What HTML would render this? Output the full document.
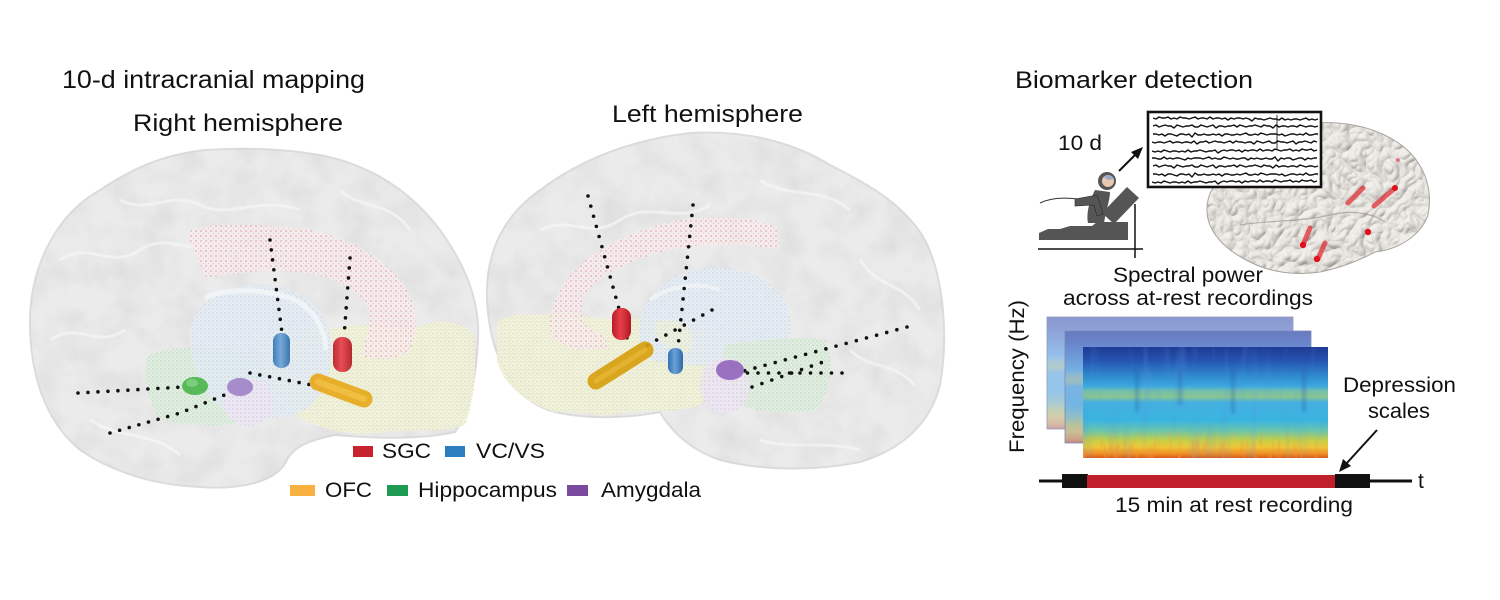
<!DOCTYPE html>
<html><head><meta charset="utf-8"><style>
html,body{margin:0;padding:0;background:#fff;}
svg{display:block;}
text{font-family:"Liberation Sans",Arial,sans-serif;fill:#111;}
</style></head><body>
<svg width="1500" height="600" viewBox="0 0 1500 600" xmlns="http://www.w3.org/2000/svg" xmlns:xlink="http://www.w3.org/1999/xlink">
<defs>
  <filter id="mottle" x="0" y="0" width="100%" height="100%">
    <feTurbulence type="fractalNoise" baseFrequency="0.035" numOctaves="3" seed="3" result="n"/>
    <feColorMatrix in="n" type="matrix" values="0 0 0 0 0.6  0 0 0 0 0.6  0 0 0 0 0.6  0.7 0 0 0 -0.25" result="g"/>
    <feComposite in="g" in2="SourceGraphic" operator="in"/>
  </filter>
  <filter id="gyri" x="0" y="0" width="100%" height="100%">
    <feTurbulence type="turbulence" baseFrequency="0.06" numOctaves="2" seed="5" result="t"/>
    <feDiffuseLighting in="t" surfaceScale="3" diffuseConstant="1.05" lighting-color="#eeebe6" result="l"><feDistantLight azimuth="235" elevation="62"/></feDiffuseLighting>
    <feComposite in="l" in2="SourceGraphic" operator="in"/>
  </filter>
  <filter id="fire" x="0" y="0" width="100%" height="100%">
    <feTurbulence type="fractalNoise" baseFrequency="0.22 0.05" numOctaves="2" seed="7" result="n"/>
    <feColorMatrix in="n" type="matrix" values="0 0 0 0 0.85  0 0 0 0 0.3  0 0 0 0 0.05  2.4 0 0 0 -1.15" result="c"/>
    <feComposite in="c" in2="SourceGraphic" operator="in"/>
  </filter>
  <filter id="streak" x="0" y="0" width="100%" height="100%">
    <feTurbulence type="fractalNoise" baseFrequency="0.1 0.012" numOctaves="2" seed="11" result="n"/>
    <feColorMatrix in="n" type="matrix" values="0 0 0 0 0.1  0 0 0 0 0.3  0 0 0 0 0.7  1.4 0 0 0 -0.7" result="c"/>
    <feComposite in="c" in2="SourceGraphic" operator="in"/>
  </filter>
  <filter id="soft" x="-20%" y="-20%" width="140%" height="140%"><feGaussianBlur stdDeviation="1.5"/></filter>
  <pattern id="pr" width="5" height="5" patternUnits="userSpaceOnUse"><rect width="5" height="5" fill="#f7eded"/><circle cx="1" cy="1" r=".6" fill="#d04858"/><circle cx="3.5" cy="3.2" r=".45" fill="#e08a98"/></pattern>
  <pattern id="pb" width="4" height="4" patternUnits="userSpaceOnUse"><rect width="4" height="4" fill="#e6edf4"/><circle cx="1" cy="1" r=".5" fill="#7aa8d0"/><circle cx="3" cy="3" r=".4" fill="#a8c8e4"/></pattern>
  <pattern id="py" width="4" height="4" patternUnits="userSpaceOnUse"><rect width="4" height="4" fill="#f1f2dc"/><circle cx="1" cy="1.5" r=".55" fill="#c8cc60"/><circle cx="3" cy="3.2" r=".45" fill="#d8d890"/></pattern>
  <pattern id="pg" width="4" height="4" patternUnits="userSpaceOnUse"><rect width="4" height="4" fill="#e2efe1"/><circle cx="1" cy="1" r=".55" fill="#70b070"/><circle cx="3" cy="3" r=".45" fill="#98c898"/></pattern>
  <pattern id="pp" width="4" height="4" patternUnits="userSpaceOnUse"><rect width="4" height="4" fill="#ede6f2"/><circle cx="1" cy="1" r=".5" fill="#b090c8"/></pattern>
  <linearGradient id="spec" x1="0" y1="0" x2="0" y2="1">
    <stop offset="0" stop-color="#1f3a92"/>
    <stop offset="0.12" stop-color="#2553b0"/>
    <stop offset="0.25" stop-color="#2f86cc"/>
    <stop offset="0.35" stop-color="#3aa8e0"/>
    <stop offset="0.40" stop-color="#78c0a8"/>
    <stop offset="0.45" stop-color="#88c692"/>
    <stop offset="0.50" stop-color="#44b0e0"/>
    <stop offset="0.66" stop-color="#3ab4e0"/>
    <stop offset="0.76" stop-color="#6ec6a8"/>
    <stop offset="0.84" stop-color="#c4d048"/>
    <stop offset="0.90" stop-color="#eec838"/>
    <stop offset="0.96" stop-color="#f09024"/>
    <stop offset="1" stop-color="#d85a1a"/>
  </linearGradient>
  <linearGradient id="fadeUp" x1="0" y1="0" x2="0" y2="1">
    <stop offset="0" stop-color="#fff" stop-opacity="0"/>
    <stop offset="1" stop-color="#fff" stop-opacity="1"/>
  </linearGradient>
  <linearGradient id="capR" x1="0" y1="0" x2="1" y2="0"><stop offset="0" stop-color="#b81c28"/><stop offset=".45" stop-color="#e8404a"/><stop offset="1" stop-color="#b01822"/></linearGradient>
  <linearGradient id="capB" x1="0" y1="0" x2="1" y2="0"><stop offset="0" stop-color="#2f72b4"/><stop offset=".45" stop-color="#6aa2d6"/><stop offset="1" stop-color="#2a6aa8"/></linearGradient>
  <path id="ea" d="M0,0 l3,1 l3,-2 l3,1 l3,0 l3,-1 l3,2 l3,-1 l3,1 l3,-2 l3,1 l3,0 l3,1 l3,-1 l3,-1 l3,2 l3,-1 l3,0 l3,1 l3,-2 l3,2 l3,-1 l3,0 l3,1 l3,-1 l3,2 l3,-2 l3,1 l3,-1 l3,0 l3,1 l3,-1 l3,1 l3,2 l3,-3 l3,1 l3,0 l3,1 l3,-1 l3,-1 l3,1 l3,0 l3,1 l3,-2 l3,2 l3,-1 l3,1 l3,-1 l3,0 l3,1 l3,-1 l3,-1 l3,2 l3,-1 l3,1 l3,-1"/>
  <path id="eb" d="M0,0 l3,-1 l3,2 l3,-1 l3,-1 l3,1 l3,0 l3,2 l3,-3 l3,1 l3,1 l3,-1 l3,0 l3,-1 l3,2 l3,0 l3,-2 l3,1 l3,1 l3,-1 l3,-1 l3,3 l3,-2 l3,0 l3,1 l3,-1 l3,0 l3,-1 l3,2 l3,-2 l3,1 l3,1 l3,-1 l3,0 l3,-1 l3,1 l3,1 l3,-2 l3,1 l3,0 l3,2 l3,-3 l3,2 l3,-1 l3,0 l3,1 l3,-1 l3,0 l3,1 l3,-2 l3,1 l3,1 l3,-1 l3,0 l3,1 l3,-1"/>
  <path id="ec" d="M0,0 l3,0 l3,1 l3,-1 l3,2 l3,-2 l3,0 l3,1 l3,1 l3,-2 l3,0 l3,1 l3,-1 l3,3 l3,-4 l3,2 l3,0 l3,-1 l3,1 l3,0 l3,-1 l3,1 l3,-1 l3,2 l3,-2 l3,0 l3,1 l3,0 l3,-1 l3,1 l3,-1 l3,-1 l3,2 l3,0 l3,-1 l3,1 l3,-2 l3,1 l3,1 l3,-1 l3,0 l3,0 l3,1 l3,-1 l3,2 l3,-1 l3,-1 l3,0 l3,1 l3,-1 l3,1 l3,-2 l3,2 l3,0 l3,-1 l3,0"/>
</defs>

<rect width="1500" height="600" fill="#fff"/>

<!-- Titles -->
<text x="62" y="88" font-size="25" textLength="303" lengthAdjust="spacingAndGlyphs">10-d intracranial mapping</text>
<text x="133" y="131" font-size="24" textLength="210" lengthAdjust="spacingAndGlyphs">Right hemisphere</text>
<text x="612" y="122" font-size="24" textLength="191" lengthAdjust="spacingAndGlyphs">Left hemisphere</text>
<text x="1015" y="88" font-size="24" textLength="238" lengthAdjust="spacingAndGlyphs">Biomarker detection</text>

<!-- ===== Right hemisphere brain ===== -->
<g>
  <path d="M30,330 C28,270 55,215 100,190 C130,170 160,155 205,150 C250,147 290,150 320,155 C370,165 410,190 440,230 C465,265 480,300 478,340 C476,380 470,410 455,432 C420,440 370,438 335,435 C310,440 292,447 286,462 C275,482 240,490 200,487 C150,485 110,470 80,450 C50,425 32,385 30,330 Z" fill="#ebebeb" stroke="#dcdcdc" stroke-width="2"/>
  <path d="M30,330 C28,270 55,215 100,190 C130,170 160,155 205,150 C250,147 290,150 320,155 C370,165 410,190 440,230 C465,265 480,300 478,340 C476,380 470,410 455,432 C420,440 370,438 335,435 C310,440 292,447 286,462 C275,482 240,490 200,487 C150,485 110,470 80,450 C50,425 32,385 30,330 Z" fill="#000" filter="url(#mottle)"/>
  <g fill="none" stroke="#f6f6f6" stroke-width="3" opacity=".7">
    <path d="M60,260 C90,240 110,270 140,250 C170,230 190,260 220,240"/>
    <path d="M120,200 C150,215 170,190 200,205 C230,220 260,195 300,210"/>
    <path d="M50,340 C80,320 95,350 125,330"/>
    <path d="M340,190 C360,210 390,200 410,230"/>
    <path d="M90,420 C120,440 150,430 180,455"/>
  </g>
  <path d="M268,335 C290,322 320,332 350,326 C380,322 400,334 420,326 C440,318 462,322 472,332 C478,360 475,400 465,425 C440,434 410,428 380,433 C350,436 325,430 305,420 C285,408 270,392 265,370 Z" fill="url(#py)" opacity=".85"/>
  <path d="M148,355 C170,345 215,345 250,352 C270,365 275,395 268,415 C240,428 190,428 160,418 C145,400 143,370 148,355 Z" fill="url(#pg)" opacity=".85"/>
  <path d="M190,330 C195,300 230,283 270,285 C305,290 330,315 332,345 C333,370 325,395 305,410 C280,420 245,422 225,410 C200,395 188,360 190,330 Z" fill="url(#pb)" opacity=".85"/>
  <path d="M205,298 C225,288 265,288 295,300 C315,310 325,330 326,350" fill="none" stroke="#f4f6f8" stroke-width="5" opacity=".8"/>
  <ellipse cx="248" cy="402" rx="25" ry="24" fill="url(#pp)" opacity=".8"/>
  <path d="M187,233 C200,222 250,225 290,227 C330,232 370,245 400,280 C418,305 420,330 410,350 C395,362 375,360 362,356 L368,332 C375,310 365,298 345,285 C320,272 280,268 250,272 C225,275 210,278 205,276 Z" fill="url(#pr)" opacity=".8"/>
  <g stroke="#111" stroke-width="3.6" stroke-linecap="round" stroke-dasharray="0 10" fill="none">
    <path d="M270,240 L282,333"/>
    <path d="M350,258 L344,337"/>
    <path d="M250,373 L312,385"/>
    <path d="M78,393 L183,387"/>
    <path d="M110,433 L180,413 L227,394"/>
  </g>
  <rect x="273" y="333" width="17" height="35" rx="8" fill="url(#capB)" opacity=".9"/>
  <rect x="333" y="337" width="19" height="35" rx="9" fill="url(#capR)" opacity=".92"/>
  <line x1="318" y1="382" x2="364" y2="399" stroke="#e8a818" stroke-width="17" stroke-linecap="round" opacity=".9"/>
  <line x1="318" y1="382" x2="364" y2="399" stroke="#f6c850" stroke-width="6" stroke-linecap="round" opacity=".6"/>
  <ellipse cx="195" cy="386" rx="13" ry="9" fill="#56ba58"/>
  <ellipse cx="192" cy="383" rx="6" ry="4" fill="#8ad68a" opacity=".7"/>
  <ellipse cx="240" cy="387" rx="13" ry="9" fill="#a68cca"/>
</g>

<!-- ===== Left hemisphere brain ===== -->
<g>
  <path d="M487,300 C485,250 505,215 540,190 C580,160 630,140 690,133 C740,130 790,140 830,165 C870,185 905,205 925,240 C945,280 948,340 940,385 C930,425 900,450 860,462 C810,472 760,470 720,460 C690,450 670,430 660,412 C630,418 590,420 555,412 C515,402 490,360 487,300 Z" fill="#ebebeb" stroke="#dcdcdc" stroke-width="2"/>
  <path d="M487,300 C485,250 505,215 540,190 C580,160 630,140 690,133 C740,130 790,140 830,165 C870,185 905,205 925,240 C945,280 948,340 940,385 C930,425 900,450 860,462 C810,472 760,470 720,460 C690,450 670,430 660,412 C630,418 590,420 555,412 C515,402 490,360 487,300 Z" fill="#000" filter="url(#mottle)"/>
  <g fill="none" stroke="#f6f6f6" stroke-width="3" opacity=".7">
    <path d="M540,230 C570,215 590,240 620,220 C650,200 680,225 710,205"/>
    <path d="M760,180 C790,200 820,185 850,210"/>
    <path d="M860,260 C880,290 900,280 920,310"/>
    <path d="M760,440 C790,450 820,440 860,450"/>
    <path d="M850,350 C870,370 890,360 915,385"/>
  </g>
  <path d="M497,322 C515,310 540,318 565,312 C590,318 615,322 640,318 C665,322 690,316 708,326 C718,350 714,385 700,405 C675,414 645,408 620,414 C595,418 575,410 555,412 C530,405 505,388 497,362 Z" fill="url(#py)" opacity=".85"/>
  <path d="M640,340 C635,300 665,272 710,268 C750,265 785,285 790,320 C792,345 780,360 760,365 C720,368 680,365 650,360 Z" fill="url(#pb)" opacity=".85"/>
  <path d="M650,300 C670,285 700,282 720,290" fill="none" stroke="#f4f6f8" stroke-width="4" opacity=".7"/>
  <path d="M655,322 C680,315 700,330 690,350 C680,360 665,345 655,335 Z" fill="url(#py)" opacity=".6"/>
  <path d="M725,345 C760,340 800,335 825,340 C835,360 830,395 815,410 C785,415 750,412 730,400 C722,380 720,360 725,345 Z" fill="url(#pg)" opacity=".85"/>
  <ellipse cx="725" cy="385" rx="25" ry="28" fill="url(#pp)" opacity=".8"/>
  <path d="M777,228 C760,218 720,215 680,220 C640,228 600,245 575,270 C555,292 545,318 553,338 C565,350 590,352 610,348 L603,335 C585,330 575,315 585,295 C600,272 640,255 680,248 C720,242 760,245 780,250 Z" fill="url(#pr)" opacity=".8"/>
  <g stroke="#111" stroke-width="3.6" stroke-linecap="round" stroke-dasharray="0 10.5" fill="none">
    <path d="M588,196 L627,338"/>
    <path d="M693,205 L678,347"/>
    <path d="M712,310 L642,348"/>
    <path d="M907,327 L740,372"/>
    <path d="M842,373 L747,373"/>
    <path d="M752,387 L823,362"/>
  </g>
  <rect x="612" y="308" width="19" height="32" rx="9" fill="url(#capR)"/>
  <line x1="645" y1="350" x2="596" y2="381" stroke="#d8a010" stroke-width="17" stroke-linecap="round" opacity=".92"/>
  <line x1="645" y1="350" x2="596" y2="381" stroke="#f0c040" stroke-width="5" stroke-linecap="round" opacity=".5"/>
  <rect x="668" y="348" width="15" height="26" rx="7" fill="url(#capB)"/>
  <ellipse cx="730" cy="370" rx="14" ry="10" fill="#9a70c0"/>
</g>

<!-- Legend -->
<rect x="353" y="446" width="20" height="11" fill="#c8232c"/>
<text x="382" y="458" font-size="21" textLength="49" lengthAdjust="spacingAndGlyphs">SGC</text>
<rect x="445" y="446" width="20" height="11" fill="#2a7ec0"/>
<text x="476" y="458" font-size="21" textLength="69" lengthAdjust="spacingAndGlyphs">VC/VS</text>
<rect x="290" y="485" width="25" height="11" fill="#f8b040"/>
<text x="325" y="497" font-size="21" textLength="47" lengthAdjust="spacingAndGlyphs">OFC</text>
<rect x="387" y="485" width="21" height="11" fill="#1e9a52"/>
<text x="418" y="497" font-size="21" textLength="139" lengthAdjust="spacingAndGlyphs">Hippocampus</text>
<rect x="567" y="485" width="21" height="11" fill="#7a4a9e"/>
<text x="601" y="497" font-size="21" textLength="100" lengthAdjust="spacingAndGlyphs">Amygdala</text>

<!-- ===== Right panel ===== -->
<path d="M1300,125 C1340,118 1380,127 1405,148 C1425,165 1433,190 1428,215 C1420,238 1395,250 1375,252 C1360,260 1340,268 1320,272 C1295,276 1270,272 1250,262 C1225,250 1208,232 1207,212 C1206,195 1215,180 1230,170 C1250,150 1275,130 1300,125 Z" fill="#d8d5d0"/>
<path d="M1300,125 C1340,118 1380,127 1405,148 C1425,165 1433,190 1428,215 C1420,238 1395,250 1375,252 C1360,260 1340,268 1320,272 C1295,276 1270,272 1250,262 C1225,250 1208,232 1207,212 C1206,195 1215,180 1230,170 C1250,150 1275,130 1300,125 Z" fill="#000" filter="url(#gyri)"/>
<path d="M1300,125 C1340,118 1380,127 1405,148 C1425,165 1433,190 1428,215 C1420,238 1395,250 1375,252 C1360,260 1340,268 1320,272 C1295,276 1270,272 1250,262 C1225,250 1208,232 1207,212 C1206,195 1215,180 1230,170 C1250,150 1275,130 1300,125 Z" fill="none" stroke="#a8a49e" stroke-width="1"/>
<path d="M1240,225 C1270,220 1300,222 1330,215 C1350,210 1370,212 1385,222" fill="none" stroke="#9c9890" stroke-width="1.2" opacity=".7"/>
<g stroke="#e03038" stroke-width="5" stroke-linecap="round" opacity=".75">
  <line x1="1363" y1="188" x2="1348" y2="203"/>
  <line x1="1395" y1="188" x2="1374" y2="206"/>
  <line x1="1310" y1="228" x2="1303" y2="245"/>
  <line x1="1325" y1="243" x2="1318" y2="259"/>
</g>
<g fill="#e0101c">
  <circle cx="1395" cy="188" r="3"/><circle cx="1303" cy="245" r="3.2"/><circle cx="1317" cy="259" r="3.2"/><circle cx="1368" cy="232" r="3.2"/><circle cx="1398" cy="160" r="2" opacity=".5"/>
</g>

<!-- EEG box -->
<rect x="1148" y="112" width="173" height="75" fill="#fff" stroke="#111" stroke-width="2.6"/>
<g stroke="#111" stroke-width="1.4" fill="none" stroke-linejoin="round">
  <use xlink:href="#ea" href="#ea" x="1153" y="118"/>
  <use xlink:href="#eb" href="#eb" x="1153" y="126"/>
  <use xlink:href="#ec" href="#ec" x="1153" y="134"/>
  <use xlink:href="#eb" href="#eb" x="1153" y="142" transform="translate(2470,0) scale(-1,1)"/>
  <use xlink:href="#ea" href="#ea" x="1153" y="150" transform="translate(2470,0) scale(-1,1)"/>
  <use xlink:href="#ec" href="#ec" x="1153" y="158" transform="translate(2470,0) scale(-1,1)"/>
  <use xlink:href="#eb" href="#eb" x="1153" y="166"/>
  <use xlink:href="#ec" href="#ec" x="1153" y="174"/>
  <use xlink:href="#ea" href="#ea" x="1153" y="181" transform="translate(2470,0) scale(-1,1)"/>
</g>
<line x1="1277" y1="115" x2="1277" y2="150" stroke="#111" stroke-width="1.2" opacity=".7"/>

<!-- arrow to box -->
<line x1="1119" y1="171" x2="1137" y2="153" stroke="#111" stroke-width="2"/>
<polygon points="1143,147 1131,152 1138,159" fill="#111"/>
<text x="1058" y="150" font-size="21" textLength="44" lengthAdjust="spacingAndGlyphs">10 d</text>

<!-- patient icon -->
<path d="M1040,203 C1050,198 1062,197 1078,199" stroke="#333" fill="none" stroke-width="1"/>
<polygon points="1039,240 1128,240 1128,222 1097,222 1092,226 1070,226 1060,229 1048,229 1039,233" fill="#555"/>
<polygon points="1127,187 1139,198 1114,224 1102,213" fill="#555"/>
<path d="M1095,190 C1090,200 1086,212 1088,223 L1104,223 C1106,210 1110,200 1110,192 Z" fill="#555"/>
<path d="M1097,195 L1075,199 L1075,206 L1094,205 L1097,216 L1103,214 Z" fill="#555" stroke="#2a2a2a" stroke-width=".6"/>
<circle cx="1107" cy="181" r="9" fill="#555"/>
<circle cx="1108" cy="181" r="6" fill="#e8c8b0"/>
<path d="M1104,177 C1106,174 1112,174 1114,179 L1108,180 Z" fill="#9aaccc"/>
<line x1="1038" y1="249" x2="1143" y2="249" stroke="#111" stroke-width="1.5"/>
<line x1="1135" y1="204" x2="1135" y2="258" stroke="#111" stroke-width="1.5"/>

<text x="1113" y="282" font-size="21" textLength="150" lengthAdjust="spacingAndGlyphs">Spectral power</text>
<text x="1063" y="305" font-size="21" textLength="250" lengthAdjust="spacingAndGlyphs">across at-rest recordings</text>
<text transform="translate(1024,453) rotate(-90)" x="0" y="0" font-size="21" textLength="153" lengthAdjust="spacingAndGlyphs">Frequency (Hz)</text>

<!-- spectrograms -->
<rect x="1047" y="317" width="246" height="112" fill="url(#spec)"/>
<rect x="1047" y="317" width="246" height="112" fill="#c8cff0" opacity=".64"/>
<rect x="1047" y="317" width="246" height="112" fill="none" stroke="#9098c0" stroke-width=".8"/>
<rect x="1065" y="331" width="246" height="112" fill="url(#spec)"/>
<rect x="1065" y="331" width="246" height="112" fill="#aab6e8" opacity=".52"/>
<rect x="1065" y="331" width="246" height="112" fill="none" stroke="#8088b8" stroke-width=".8"/>
<rect x="1083" y="347" width="245" height="111" fill="url(#spec)"/>
<rect x="1083" y="347" width="245" height="111" fill="#fff" filter="url(#streak)" opacity=".45"/>
<g stroke="#2a5cae" stroke-width="4" opacity=".35" filter="url(#soft)">
  <line x1="1137" y1="366" x2="1137" y2="412"/>
  <line x1="1233" y1="366" x2="1233" y2="414"/>
  <line x1="1304" y1="366" x2="1304" y2="412"/>
  <line x1="1180" y1="370" x2="1180" y2="405"/>
</g>
<rect x="1083" y="428" width="245" height="30" fill="url(#fadeUp)" filter="url(#fire)"/>

<!-- timeline -->
<line x1="1039" y1="481" x2="1412" y2="481" stroke="#111" stroke-width="3"/>
<rect x="1062" y="474" width="26" height="14" fill="#111"/>
<rect x="1335" y="474" width="35" height="14" fill="#111"/>
<rect x="1087" y="475" width="248" height="13" fill="#c0202c"/>
<text x="1418" y="488" font-size="21">t</text>

<text x="1343" y="392" font-size="21" textLength="113" lengthAdjust="spacingAndGlyphs">Depression</text>
<text x="1368" y="418" font-size="21" textLength="62" lengthAdjust="spacingAndGlyphs">scales</text>
<line x1="1377" y1="430" x2="1346" y2="464" stroke="#111" stroke-width="2"/>
<polygon points="1339,472 1343,459 1351,466" fill="#111"/>

<text x="1115" y="512" font-size="21" textLength="238" lengthAdjust="spacingAndGlyphs">15 min at rest recording</text>
</svg>
</body></html>
